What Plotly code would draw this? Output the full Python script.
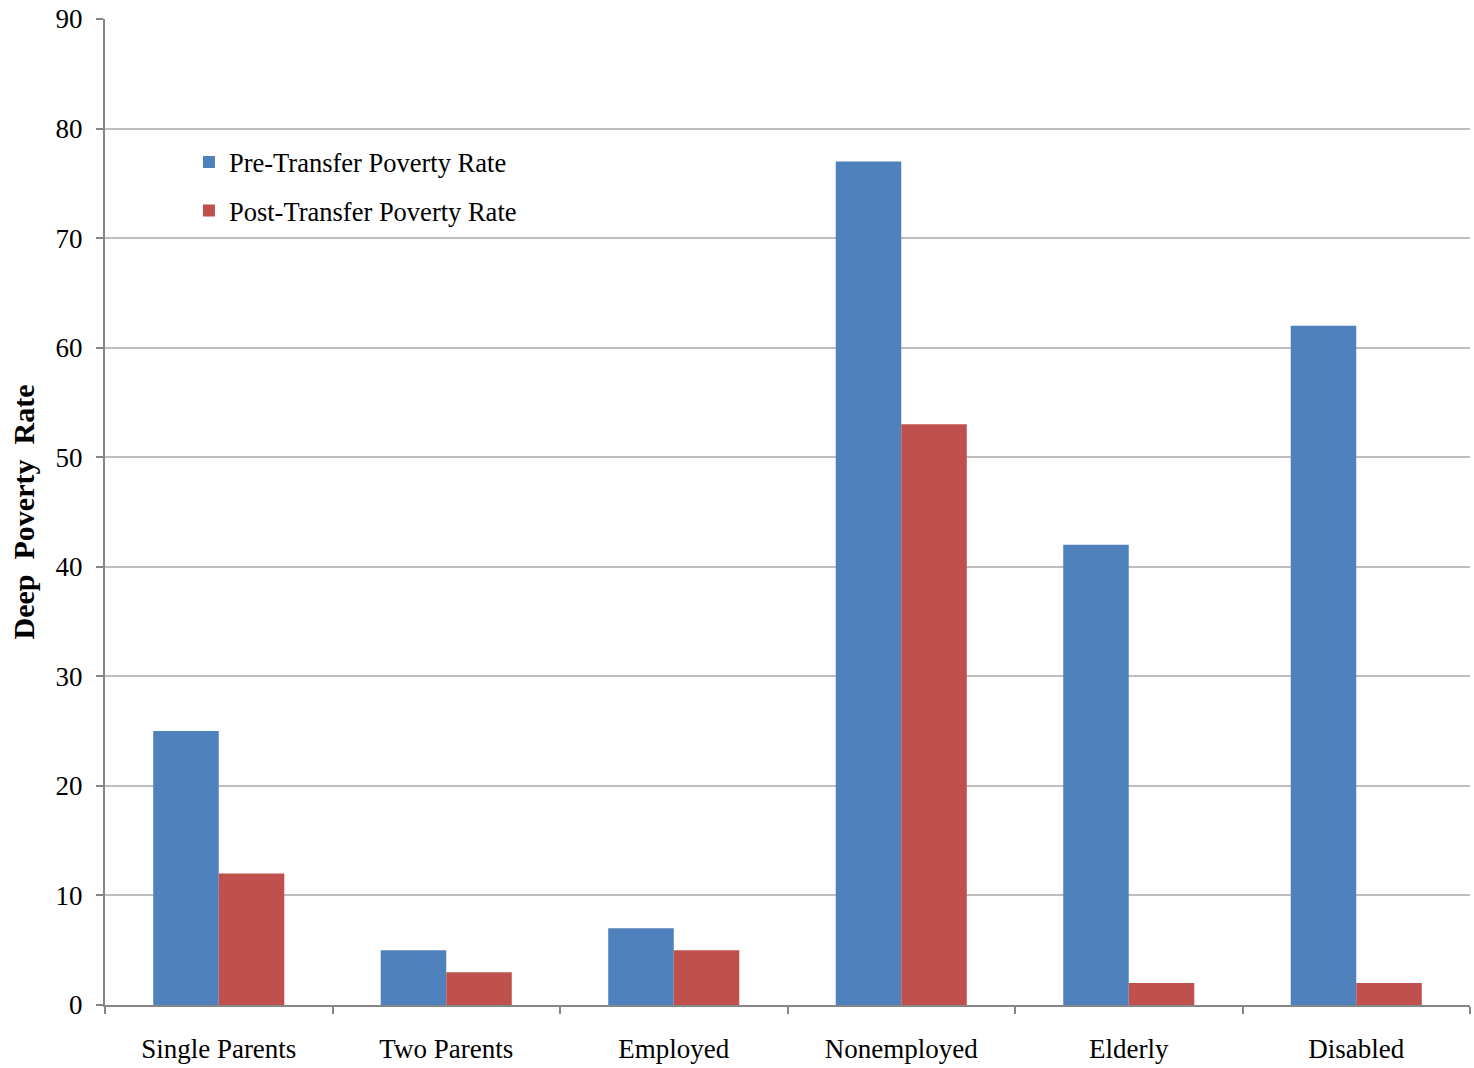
import plotly.graph_objects as go

categories = ["Single Parents", "Two Parents", "Employed", "Nonemployed", "Elderly", "Disabled"]
pre_transfer = [25, 5, 7, 77, 42, 62]
post_transfer = [12, 3, 5, 53, 2, 2]
y_ticks = [0, 10, 20, 30, 40, 50, 60, 70, 80, 90]

FONT = "Liberation Serif"

fig = go.Figure()
fig.add_trace(go.Bar(x=categories, y=pre_transfer, name="Pre-Transfer Poverty Rate",
                     legendgroup="pre",
                     marker=dict(color="#4F81BD", line=dict(width=0))))
fig.add_trace(go.Bar(x=categories, y=post_transfer, name="Post-Transfer Poverty Rate",
                     legendgroup="post",
                     marker=dict(color="#C0504D", line=dict(width=0))))

fig.update_layout(
    width=1474, height=1068,
    margin=dict(l=105, r=4, t=18, b=62),
    paper_bgcolor="white", plot_bgcolor="white",
    barmode="group", bargap=0.424, bargroupgap=0,
    font=dict(family=FONT, size=27, color="black"),
    legend=dict(x=0.0615, y=0.879, xanchor="left", yanchor="top",
                bgcolor="rgba(0,0,0,0)", font=dict(family=FONT, size=26.5),
                itemwidth=30, tracegroupgap=11, traceorder="grouped"),
    xaxis=dict(type="category", showgrid=False, showline=True, linecolor="#868686", linewidth=2,
               ticks="outside", tickson="boundaries", ticklen=7, tickcolor="#868686", tickwidth=2,
               tickfont=dict(family=FONT, size=27), ticklabelstandoff=19),
    yaxis=dict(range=[0, 90], tickvals=y_ticks, showgrid=True, gridcolor="#BEBEBE", gridwidth=2,
               showline=True, linecolor="#868686", linewidth=2, zeroline=False,
               ticks="outside", ticklen=7, tickcolor="#868686", tickwidth=2,
               tickfont=dict(family=FONT, size=27), ticklabelstandoff=8,
               title=dict(text="<b>Deep  Poverty  Rate</b>", font=dict(family=FONT, size=30), standoff=12)),
)

fig.write_html("out.html")
